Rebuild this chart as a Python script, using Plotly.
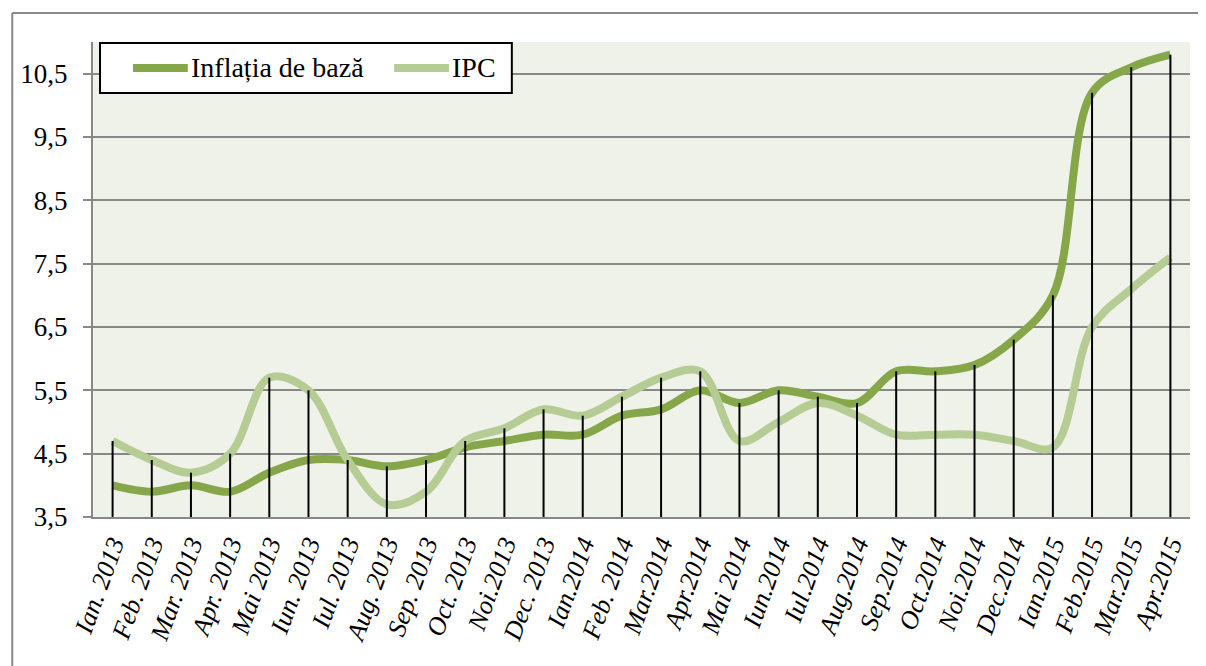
import plotly.graph_objects as go

# Categorii (luni) si serii
months = [
    "Ian. 2013", "Feb. 2013", "Mar. 2013", "Apr. 2013", "Mai 2013", "Iun. 2013",
    "Iul. 2013", "Aug. 2013", "Sep. 2013", "Oct. 2013", "Noi.2013", "Dec. 2013",
    "Ian.2014", "Feb. 2014", "Mar.2014", "Apr.2014", "Mai 2014", "Iun.2014",
    "Iul.2014", "Aug.2014", "Sep.2014", "Oct.2014", "Noi.2014", "Dec.2014",
    "Ian.2015", "Feb.2015", "Mar.2015", "Apr.2015",
]
core_inflation = [4.0, 3.9, 4.0, 3.9, 4.2, 4.4, 4.4, 4.3, 4.4, 4.6, 4.7, 4.8,
                  4.8, 5.1, 5.2, 5.5, 5.3, 5.5, 5.4, 5.3, 5.8, 5.8, 5.9, 6.3,
                  7.0, 10.2, 10.6, 10.8]
cpi = [4.7, 4.4, 4.2, 4.5, 5.7, 5.5, 4.4, 3.7, 3.9, 4.7, 4.9, 5.2,
       5.1, 5.4, 5.7, 5.8, 4.7, 5.0, 5.3, 5.1, 4.8, 4.8, 4.8, 4.7,
       4.6, 6.5, 7.1, 7.6]
series_names = ["Inflația de bază", "IPC"]
y_ticks = [3.5, 4.5, 5.5, 6.5, 7.5, 8.5, 9.5, 10.5]
y_min, y_max = 3.5, 11.0

CORE_COLOR = "#86A64A"
CPI_COLOR = "#B5CC94"
GRID = "#888888"
FONT = "Liberation Serif"

fig = go.Figure()

for name, vals, color in zip(series_names, [core_inflation, cpi], [CORE_COLOR, CPI_COLOR]):
    fig.add_trace(go.Scatter(
        x=months, y=vals, name=name, mode="lines", showlegend=False,
        line=dict(color=color, width=8, shape="spline", smoothing=1.0),
    ))

# linii verticale (drop lines) de la axa pana la valoarea maxima
drop_x, drop_y = [], []
for m, a, b in zip(months, core_inflation, cpi):
    drop_x += [m, m, None]
    drop_y += [y_min, max(a, b), None]
fig.add_trace(go.Scatter(
    x=drop_x, y=drop_y, mode="lines", line=dict(color="black", width=2),
    showlegend=False, hoverinfo="skip",
))

# legenda desenata manual (linii mai lungi ca in original)
shapes = [
    dict(type="rect", xref="paper", yref="paper", x0=0.0064, x1=0.3818,
         y0=0.8926, y1=0.9979, fillcolor="white", line=dict(color="black", width=2)),
    dict(type="line", xref="paper", yref="paper", x0=0.0364, x1=0.0864,
         y0=0.9453, y1=0.9453, line=dict(color=CORE_COLOR, width=8)),
    dict(type="line", xref="paper", yref="paper", x0=0.2745, x1=0.3245,
         y0=0.9453, y1=0.9453, line=dict(color=CPI_COLOR, width=8)),
    # chenarul exterior
    dict(type="line", xref="paper", yref="paper", x0=-0.0736, x1=-0.0736,
         y0=-0.5, y1=1.061, line=dict(color=GRID, width=2)),
    dict(type="line", xref="paper", yref="paper", x0=-0.0736, x1=1.1,
         y0=1.061, y1=1.061, line=dict(color=GRID, width=2)),
]
annotations = [
    dict(xref="paper", yref="paper", x=0.0873, y=0.9453, xanchor="left",
         yanchor="middle", text=series_names[0], showarrow=False,
         font=dict(family=FONT, size=28)),
    dict(xref="paper", yref="paper", x=0.3255, y=0.9453, xanchor="left",
         yanchor="middle", text=series_names[1], showarrow=False,
         font=dict(family=FONT, size=28)),
]

fig.update_layout(
    width=1198, height=658,
    margin=dict(l=82, r=16, t=34, b=149),
    paper_bgcolor="white",
    plot_bgcolor="#EFF2E8",
    font=dict(family=FONT, color="black"),
    xaxis=dict(
        type="category", range=[-0.5, len(months) - 0.5],
        showgrid=False, showline=True, linecolor=GRID, linewidth=2,
        ticks="", tickangle=-70,
        tickfont=dict(family=FONT, size=26, style="italic"),
    ),
    yaxis=dict(
        range=[y_min, y_max], tickvals=y_ticks,
        showgrid=True, gridcolor=GRID, gridwidth=2,
        showline=True, linecolor=GRID, linewidth=2,
        ticks="outside", ticklen=8, tickcolor=GRID, tickwidth=2,
        tickfont=dict(family=FONT, size=27), ticklabelstandoff=10,
        zeroline=False,
    ),
    separators=", ",
    shapes=shapes,
    annotations=annotations,
)

fig.write_html("out.html")
